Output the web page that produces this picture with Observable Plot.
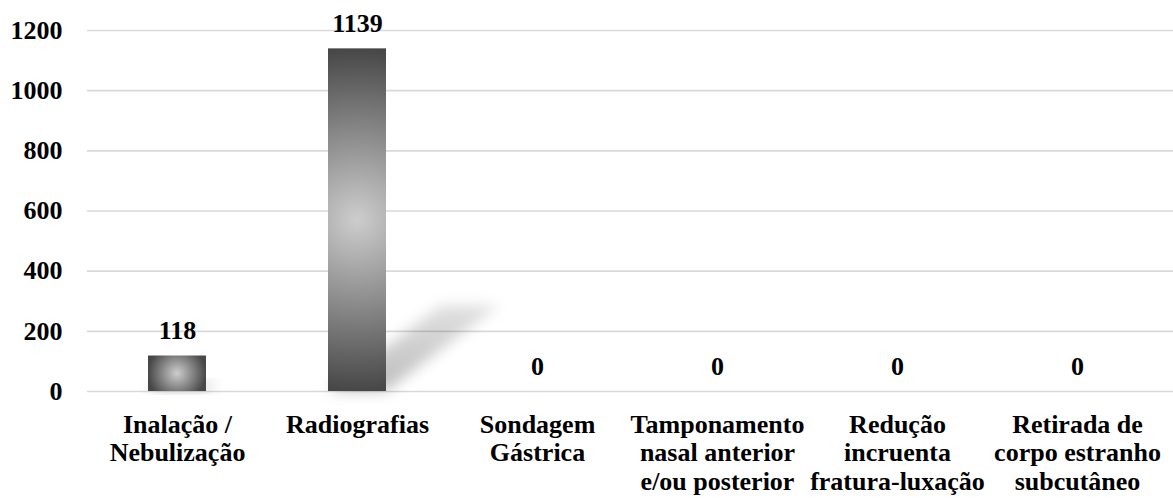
<!DOCTYPE html>
<html>
<head>
<meta charset="utf-8">
<script src="https://cdn.jsdelivr.net/npm/d3@7"></script>
<script src="https://cdn.jsdelivr.net/npm/@observablehq/plot@0.6"></script>
</head>
<body style="margin:0;background:#fff">
<div id="chart"></div>
<div id="note" style="height:0;overflow:hidden"></div>
<script>
const categories = [
  "Inalação /\nNebulização",
  "Radiografias",
  "Sondagem\nGástrica",
  "Tamponamento\nnasal anterior\ne/ou posterior",
  "Redução\nincruenta\nfratura-luxação",
  "Retirada de\ncorpo estranho\nsubcutâneo"
];
const values = [118, 1139, 0, 0, 0, 0];
const yTicks = [0, 200, 400, 600, 800, 1000, 1200];

const data = categories.map((c, i) => ({category: c, value: values[i]}));

const NS = "http://www.w3.org/2000/svg";
function el(name, attrs) {
  const e = document.createElementNS(NS, name);
  for (const k in attrs) e.setAttribute(k, attrs[k]);
  return e;
}

// Render hook: radial gradient fill per bar + skewed blurred shadow
function fancyBars(index, scales, vals, dimensions, context, next) {
  const g = next(index, scales, vals, dimensions, context);
  const defs = el("defs", {});
  const filter = el("filter", {id: "shBlur", x: "-40%", y: "-40%", width: "180%", height: "180%"});
  filter.appendChild(el("feGaussianBlur", {stdDeviation: "7"}));
  defs.appendChild(filter);
  const lg = el("linearGradient", {id: "shGrad", x1: "0", y1: "1", x2: "0", y2: "0"});
  lg.appendChild(el("stop", {offset: "0", "stop-color": "#000", "stop-opacity": "0.26"}));
  lg.appendChild(el("stop", {offset: "1", "stop-color": "#000", "stop-opacity": "0.12"}));
  defs.appendChild(lg);
  g.insertBefore(defs, g.firstChild);
  const rects = Array.from(g.querySelectorAll("rect"));
  rects.forEach((r, i) => {
    const x = +r.getAttribute("x"), y = +r.getAttribute("y");
    const w = +r.getAttribute("width"), h = +r.getAttribute("height");
    if (!(h > 0)) return;
    const id = "barGrad" + i;
    const rg = el("radialGradient", {
      id, gradientUnits: "userSpaceOnUse",
      cx: x + w / 2, cy: y + h / 2, r: Math.max(w, h) / 2
    });
    rg.appendChild(el("stop", {offset: "0", "stop-color": "#cdcdcd"}));
    rg.appendChild(el("stop", {offset: "0.5", "stop-color": "#8a8a8a"}));
    rg.appendChild(el("stop", {offset: "1", "stop-color": "#474747"}));
    defs.appendChild(rg);
    r.setAttribute("fill", `url(#${id})`);
    const y0 = y + h, dx = 0.33 * h, dy = 0.25 * h;
    const poly = el("polygon", {
      points: `${x},${y0} ${x + w},${y0} ${x + w + dx},${y0 - dy} ${x + dx},${y0 - dy}`,
      fill: "url(#shGrad)", filter: "url(#shBlur)"
    });
    r.parentNode.insertBefore(poly, rects[0]);
  });
  return g;
}

const chart = Plot.plot({
  width: 1173,
  height: 498,
  marginTop: 30,
  marginBottom: 107,
  marginLeft: 87,
  marginRight: 6,
  style: {fontFamily: "Liberation Serif, serif", fontSize: "26px", fontWeight: "bold"},
  x: {domain: categories, paddingInner: 0.678, paddingOuter: 0.339, label: null},
  y: {domain: [0, 1200], label: null},
  marks: [
    Plot.ruleY(yTicks, {stroke: "#d9d9d9", strokeWidth: 1.6, insetRight: -6}),
    Plot.barY(data, {x: "category", y: "value", fill: "#555", render: fancyBars}),
    Plot.text(data, {x: "category", y: "value", text: d => String(d.value), dy: -25, fill: "#000"}),
    Plot.axisY({ticks: yTicks, tickFormat: d => String(d), tickSize: 0, tickPadding: 25, label: null}),
    Plot.axisX({tickSize: 0, tickPadding: 21, lineHeight: 1.1, label: null})
  ]
});
chart.setAttribute("font-family", "Liberation Serif, serif");
chart.setAttribute("font-weight", "bold");
chart.setAttribute("font-size", "26");
chart.querySelectorAll("text").forEach(t => {
  t.setAttribute("font-family", "Liberation Serif");
  t.setAttribute("font-weight", "bold");
});
document.getElementById("chart").appendChild(chart);
</script>
</body>
</html>
